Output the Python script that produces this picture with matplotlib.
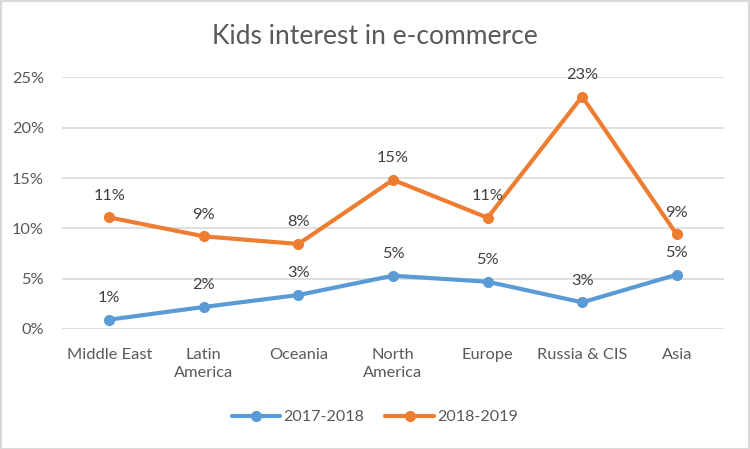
import matplotlib.pyplot as plt
from matplotlib.patches import Rectangle
from matplotlib.ticker import PercentFormatter

plt.rcParams['font.family'] = ['Lato', 'DejaVu Sans']

# data
regions = ['Middle East', 'Latin\nAmerica', 'Oceania', 'North\nAmerica', 'Europe', 'Russia & CIS', 'Asia']
kids_2017_2018 = [0.0093, 0.0219, 0.0338, 0.0530, 0.0470, 0.0265, 0.0540]
kids_2018_2019 = [0.1109, 0.0921, 0.0845, 0.1483, 0.1106, 0.2311, 0.0940]

blue = '#5B9BD5'
orange = '#ED7D31'

fig = plt.figure(figsize=(7.5, 4.49), dpi=100)
ax = fig.add_axes([62 / 750, 120 / 449, 662 / 750, 251.5 / 449])

x = range(len(regions))
ax.plot(x, kids_2017_2018, color=blue, lw=3, marker='o', ms=7, label='2017-2018',
        solid_capstyle='round')
ax.plot(x, kids_2018_2019, color=orange, lw=3, marker='o', ms=7, label='2018-2019',
        solid_capstyle='round')

# data labels
for series in (kids_2017_2018, kids_2018_2019):
    for i, v in enumerate(series):
        ax.annotate(f'{v * 100:.0f}%', (i, v), xytext=(0, 15.5), textcoords='offset points',
                    ha='center', va='center', fontsize=11.8, color='#404040')

ax.set_xlim(-0.5, len(regions) - 0.5)
ax.set_ylim(0, 0.25)
ax.set_yticks([0, 0.05, 0.10, 0.15, 0.20, 0.25])
ax.yaxis.set_major_formatter(PercentFormatter(1.0, decimals=0))
ax.set_xticks(list(x))
ax.set_xticklabels(regions, linespacing=1.3)
ax.tick_params(axis='both', length=0, labelsize=11.8, labelcolor='#595959')
ax.tick_params(axis='y', pad=13)
ax.tick_params(axis='x', pad=14)
ax.grid(axis='y', color='#D9D9D9', lw=1.2)
ax.set_axisbelow(True)
for s in ax.spines.values():
    s.set_visible(False)

fig.text(0.5, 1 - 36 / 449, 'Kids interest in e-commerce', ha='center', va='center',
         fontsize=19, color='#595959')

fig.legend(loc='center', bbox_to_anchor=(0.5, 1 - 417 / 449), ncol=2, frameon=False,
           fontsize=11.6, labelcolor='#595959', handlelength=3.0, columnspacing=1.3,
           handletextpad=0.2)

# chart border
fig.add_artist(Rectangle((0.5 / 750, 0.5 / 449), 748 / 750, 447.5 / 449, transform=fig.transFigure,
                         fill=False, edgecolor='#D9D9D9', lw=1.5))

fig.savefig('out.png', dpi=100)
